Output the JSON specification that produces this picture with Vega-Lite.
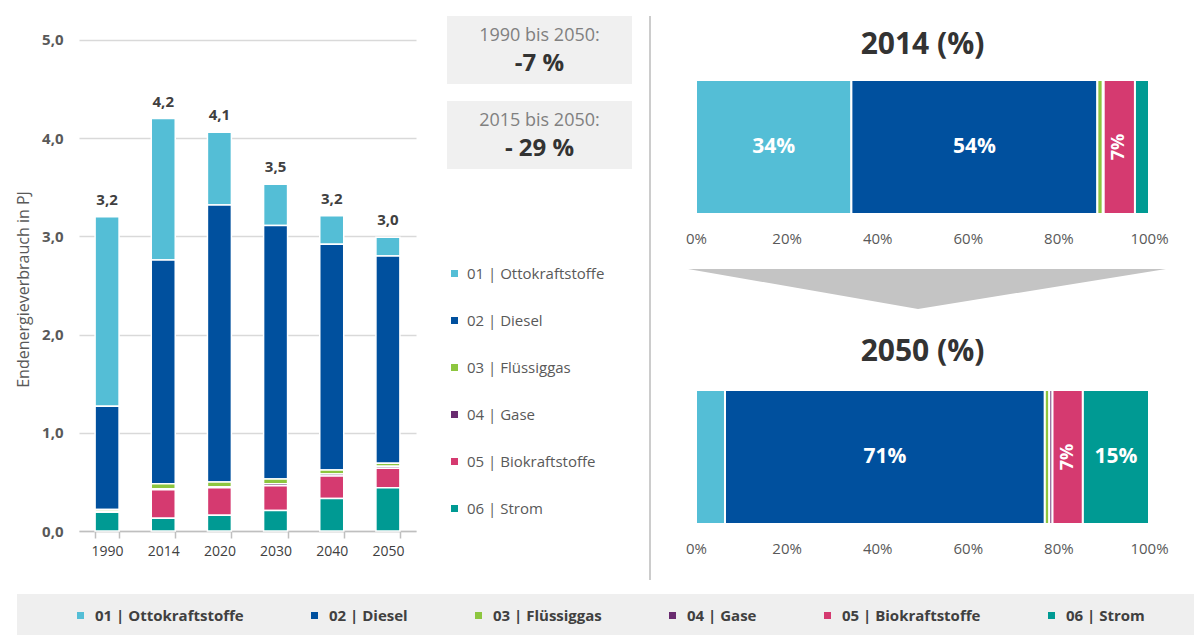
{
  "$schema": "https://vega.github.io/schema/vega-lite/v6.json",
  "padding": {"left": 15, "top": 15, "right": 0, "bottom": 0},
  "background": "white",
  "datasets": {
    "energie": [
      {"year": "1990", "cat": "01 | Ottokraftstoffe", "value": 1.93},
      {"year": "1990", "cat": "02 | Diesel", "value": 1.05},
      {"year": "1990", "cat": "03 | Flüssiggas", "value": 0.02},
      {"year": "1990", "cat": "04 | Gase", "value": 0.01},
      {"year": "1990", "cat": "06 | Strom", "value": 0.19},
      {"year": "2014", "cat": "01 | Ottokraftstoffe", "value": 1.44},
      {"year": "2014", "cat": "02 | Diesel", "value": 2.28},
      {"year": "2014", "cat": "03 | Flüssiggas", "value": 0.05},
      {"year": "2014", "cat": "04 | Gase", "value": 0.01},
      {"year": "2014", "cat": "05 | Biokraftstoffe", "value": 0.29},
      {"year": "2014", "cat": "06 | Strom", "value": 0.13},
      {"year": "2020", "cat": "01 | Ottokraftstoffe", "value": 0.74},
      {"year": "2020", "cat": "02 | Diesel", "value": 2.82},
      {"year": "2020", "cat": "03 | Flüssiggas", "value": 0.05},
      {"year": "2020", "cat": "04 | Gase", "value": 0.01},
      {"year": "2020", "cat": "05 | Biokraftstoffe", "value": 0.28},
      {"year": "2020", "cat": "06 | Strom", "value": 0.16},
      {"year": "2030", "cat": "01 | Ottokraftstoffe", "value": 0.42},
      {"year": "2030", "cat": "02 | Diesel", "value": 2.58},
      {"year": "2030", "cat": "03 | Flüssiggas", "value": 0.05},
      {"year": "2030", "cat": "04 | Gase", "value": 0.02},
      {"year": "2030", "cat": "05 | Biokraftstoffe", "value": 0.25},
      {"year": "2030", "cat": "06 | Strom", "value": 0.21},
      {"year": "2040", "cat": "01 | Ottokraftstoffe", "value": 0.29},
      {"year": "2040", "cat": "02 | Diesel", "value": 2.30},
      {"year": "2040", "cat": "03 | Flüssiggas", "value": 0.04},
      {"year": "2040", "cat": "04 | Gase", "value": 0.02},
      {"year": "2040", "cat": "05 | Biokraftstoffe", "value": 0.23},
      {"year": "2040", "cat": "06 | Strom", "value": 0.33},
      {"year": "2050", "cat": "01 | Ottokraftstoffe", "value": 0.19},
      {"year": "2050", "cat": "02 | Diesel", "value": 2.11},
      {"year": "2050", "cat": "03 | Flüssiggas", "value": 0.03},
      {"year": "2050", "cat": "04 | Gase", "value": 0.02},
      {"year": "2050", "cat": "05 | Biokraftstoffe", "value": 0.20},
      {"year": "2050", "cat": "06 | Strom", "value": 0.44}
    ],
    "anteile": [
      {"year": "2014", "cat": "01 | Ottokraftstoffe", "share": 0.343},
      {"year": "2014", "cat": "02 | Diesel", "share": 0.543},
      {"year": "2014", "cat": "03 | Flüssiggas", "share": 0.012},
      {"year": "2014", "cat": "04 | Gase", "share": 0.002},
      {"year": "2014", "cat": "05 | Biokraftstoffe", "share": 0.069},
      {"year": "2014", "cat": "06 | Strom", "share": 0.031},
      {"year": "2050", "cat": "01 | Ottokraftstoffe", "share": 0.064},
      {"year": "2050", "cat": "02 | Diesel", "share": 0.706},
      {"year": "2050", "cat": "03 | Flüssiggas", "share": 0.010},
      {"year": "2050", "cat": "04 | Gase", "share": 0.007},
      {"year": "2050", "cat": "05 | Biokraftstoffe", "share": 0.067},
      {"year": "2050", "cat": "06 | Strom", "share": 0.146}
    ],
    "traeger": [
      {"cat": "01 | Ottokraftstoffe"},
      {"cat": "02 | Diesel"},
      {"cat": "03 | Flüssiggas"},
      {"cat": "04 | Gase"},
      {"cat": "05 | Biokraftstoffe"},
      {"cat": "06 | Strom"}
    ]
  },
  "vconcat": [
    {
      "hconcat": [
        {
          "width": 337,
          "height": 515,
          "data": {"name": "energie"},
          "layer": [
            {
              "mark": {"type": "bar", "stroke": "white", "strokeWidth": 1.5},
              "encoding": {
                "x": {
                  "field": "year", "type": "nominal",
                  "scale": {"paddingInner": 0.573, "paddingOuter": 0.2865},
                  "axis": {
                    "title": null, "labelAngle": 0, "labelFontSize": 14, "labelColor": "#404040",
                    "domain": true, "domainColor": "#bfbfbf", "domainWidth": 1.5,
                    "ticks": true, "tickColor": "#bfbfbf", "tickSize": 7, "tickWidth": 1.5, "tickBand": "extent",
                    "labelPadding": 6, "grid": false
                  }
                },
                "y": {
                  "field": "value", "type": "quantitative", "stack": "zero",
                  "scale": {"domain": [0, 5.244], "nice": false},
                  "axis": {
                    "title": "Endenergieverbrauch in PJ", "titleFontSize": 16, "titleFontWeight": "normal",
                    "titleColor": "#595959", "titleX": -48, "titleY": 273,
                    "values": [0, 1, 2, 3, 4, 5], "format": ".1f",
                    "labelFontSize": 15, "labelFontWeight": "bold", "labelColor": "#595959", "labelPadding": 16,
                    "domain": false, "ticks": false, "tickSize": 0,
                    "grid": true, "gridColor": "#d9d9d9", "gridWidth": 1.5
                  }
                },
                "color": {"field": "cat", "type": "nominal", "legend": null},
                "order": {"field": "cat", "sort": "descending"}
              }
            },
            {
              "mark": {"type": "text", "dy": -17, "fontSize": 15, "fontWeight": "bold", "color": "#404040", "baseline": "middle"},
              "encoding": {
                "x": {"field": "year", "type": "nominal", "title": null},
                "y": {"aggregate": "sum", "field": "value", "type": "quantitative", "title": "Endenergieverbrauch in PJ"},
                "text": {"aggregate": "sum", "field": "value", "type": "quantitative", "format": ".1f"}
              }
            }
          ]
        },
        {
          "hconcat": [
            {
              "vconcat": [
                {
                  "width": 185,
                  "height": 68,
                  "view": {"fill": "#f0f0f0", "stroke": null},
                  "data": {"values": [{"zeitraum": "1990 bis 2050:", "veraenderung": "-7 %"}]},
                  "layer": [
                    {"mark": {"type": "text", "dy": -14, "fontSize": 18, "color": "#808080"}, "encoding": {"text": {"field": "zeitraum"}}},
                    {"mark": {"type": "text", "dy": 14, "fontSize": 24, "fontWeight": "bold", "color": "#333333"}, "encoding": {"text": {"field": "veraenderung"}}}
                  ]
                },
                {
                  "width": 185,
                  "height": 68,
                  "view": {"fill": "#f0f0f0", "stroke": null},
                  "data": {"values": [{"zeitraum": "2015 bis 2050:", "veraenderung": "- 29 %"}]},
                  "layer": [
                    {"mark": {"type": "text", "dy": -14, "fontSize": 18, "color": "#808080"}, "encoding": {"text": {"field": "zeitraum"}}},
                    {"mark": {"type": "text", "dy": 14, "fontSize": 24, "fontWeight": "bold", "color": "#333333"}, "encoding": {"text": {"field": "veraenderung"}}}
                  ]
                },
                {
                  "width": 185,
                  "height": 345,
                  "data": {"name": "traeger"},
                  "mark": {"type": "square", "opacity": 0, "size": 49},
                  "encoding": {
                    "color": {
                      "field": "cat", "type": "nominal",
                      "legend": {
                        "orient": "none", "legendX": 0, "legendY": 80, "direction": "vertical", "title": null,
                        "symbolType": "square", "symbolSize": 49, "symbolOpacity": 1, "symbolStrokeWidth": 0,
                        "labelFontSize": 15, "labelColor": "#595959", "labelOffset": 5, "rowPadding": 31,
                        "padding": 0, "labelLimit": 300
                      }
                    }
                  }
                }
              ],
              "spacing": 17,
              "resolve": {"scale": {"color": "independent"}, "legend": {"color": "independent"}}
            },
            {
              "width": 4,
              "height": 564,
              "data": {"values": [{"trenner": 0}]},
              "mark": {"type": "rule", "color": "#cccccc", "strokeWidth": 2},
              "encoding": {"x": {"field": "trenner", "type": "quantitative", "axis": null, "scale": {"domain": [0, 1]}}}
            }
          ],
          "spacing": 17,
          "resolve": {"scale": {"color": "independent"}, "legend": {"color": "independent"}}
        },
        {
          "vconcat": [
            {
              "width": 453,
              "height": 198,
              "title": {"text": "2014 (%)", "frame": "group", "anchor": "middle", "baseline": "alphabetic", "offset": -68, "fontSize": 30, "fontWeight": "bold", "color": "#333333"},
              "data": {"name": "anteile"},
              "transform": [
                {"filter": "datum.year == '2014'"},
                {"stack": "share", "groupby": ["year"], "sort": [{"field": "cat", "order": "ascending"}], "as": ["s0", "s1"]}
              ],
              "encoding": {
                "y": {"field": "year", "type": "nominal", "axis": null, "scale": {"paddingInner": 0, "paddingOuter": 0.2388, "align": 1}}
              },
              "layer": [
                {
                  "mark": {"type": "bar", "stroke": "white", "strokeWidth": 2},
                  "encoding": {
                    "x": {
                      "field": "s0", "type": "quantitative", "scale": {"domain": [0, 1], "nice": false},
                      "axis": {"title": null, "values": [0, 0.2, 0.4, 0.6, 0.8, 1], "format": ".0%", "grid": false, "domain": false, "ticks": false, "tickSize": 0, "labelPadding": 17, "labelFontSize": 15, "labelColor": "#595959", "labelFlush": false}
                    },
                    "x2": {"field": "s1"},
                    "color": {"field": "cat", "type": "nominal", "legend": null}
                  }
                },
                {
                  "transform": [{"filter": "datum.share >= 0.1"}, {"fold": ["s0", "s1"], "as": ["edge", "pos"]}],
                  "mark": {"type": "text", "color": "white", "fontSize": 21, "fontWeight": "bold", "baseline": "middle"},
                  "encoding": {
                    "x": {"aggregate": "mean", "field": "pos", "type": "quantitative", "title": null},
                    "detail": {"field": "cat"},
                    "text": {"field": "share", "type": "quantitative", "format": ".0%"}
                  }
                },
                {
                  "transform": [{"filter": "datum.cat == '05 | Biokraftstoffe'"}, {"fold": ["s0", "s1"], "as": ["edge", "pos"]}],
                  "mark": {"type": "text", "color": "white", "fontSize": 18, "fontWeight": "bold", "angle": 270, "baseline": "middle"},
                  "encoding": {
                    "x": {"aggregate": "mean", "field": "pos", "type": "quantitative", "title": null},
                    "detail": {"field": "cat"},
                    "text": {"field": "share", "type": "quantitative", "format": ".0%"}
                  }
                }
              ]
            },
            {
              "width": 478,
              "height": 40,
              "data": {"values": [{"von": "2014", "nach": "2050"}]},
              "mark": {"type": "point", "shape": "M-1.0335,-0.0837L0.9665,-0.0837L-0.0711,0.0837Z", "size": 228484, "filled": true, "color": "#c4c4c4", "opacity": 1, "strokeWidth": 0},
              "encoding": {}
            },
            {
              "width": 453,
              "height": 192,
              "title": {"text": "2050 (%)", "frame": "group", "anchor": "middle", "baseline": "alphabetic", "offset": -59, "fontSize": 30, "fontWeight": "bold", "color": "#333333"},
              "data": {"name": "anteile"},
              "transform": [
                {"filter": "datum.year == '2050'"},
                {"stack": "share", "groupby": ["year"], "sort": [{"field": "cat", "order": "ascending"}], "as": ["s0", "s1"]}
              ],
              "encoding": {
                "y": {"field": "year", "type": "nominal", "axis": null, "scale": {"paddingInner": 0, "paddingOuter": 0.2164, "align": 1}}
              },
              "layer": [
                {
                  "mark": {"type": "bar", "stroke": "white", "strokeWidth": 2},
                  "encoding": {
                    "x": {
                      "field": "s0", "type": "quantitative", "scale": {"domain": [0, 1], "nice": false},
                      "axis": {"title": null, "values": [0, 0.2, 0.4, 0.6, 0.8, 1], "format": ".0%", "grid": false, "domain": false, "ticks": false, "tickSize": 0, "labelPadding": 17, "labelFontSize": 15, "labelColor": "#595959", "labelFlush": false}
                    },
                    "x2": {"field": "s1"},
                    "color": {"field": "cat", "type": "nominal", "legend": null}
                  }
                },
                {
                  "transform": [{"filter": "datum.share >= 0.1"}, {"fold": ["s0", "s1"], "as": ["edge", "pos"]}],
                  "mark": {"type": "text", "color": "white", "fontSize": 21, "fontWeight": "bold", "baseline": "middle"},
                  "encoding": {
                    "x": {"aggregate": "mean", "field": "pos", "type": "quantitative", "title": null},
                    "detail": {"field": "cat"},
                    "text": {"field": "share", "type": "quantitative", "format": ".0%"}
                  }
                },
                {
                  "transform": [{"filter": "datum.cat == '05 | Biokraftstoffe'"}, {"fold": ["s0", "s1"], "as": ["edge", "pos"]}],
                  "mark": {"type": "text", "color": "white", "fontSize": 18, "fontWeight": "bold", "angle": 270, "baseline": "middle"},
                  "encoding": {
                    "x": {"aggregate": "mean", "field": "pos", "type": "quantitative", "title": null},
                    "detail": {"field": "cat"},
                    "text": {"field": "share", "type": "quantitative", "format": ".0%"}
                  }
                }
              ]
            }
          ],
          "spacing": 22,
          "resolve": {"scale": {"color": "independent"}, "legend": {"color": "independent"}}
        }
      ],
      "spacing": 31,
      "resolve": {"scale": {"color": "independent"}, "legend": {"color": "independent"}}
    },
    {
      "width": 1116,
      "height": 43,
      "view": {"fill": "#efefef", "stroke": null},
      "data": {"name": "traeger"},
      "mark": {"type": "square", "opacity": 0, "size": 49},
      "encoding": {
        "color": {
          "field": "cat", "type": "nominal",
          "legend": {
            "orient": "none", "legendX": -62, "legendY": 0, "direction": "horizontal", "columns": 6, "gridAlign": "none",
            "columnPadding": 63, "title": " ", "titleOrient": "left", "titlePadding": 42, "titleFontSize": 15,
            "fillColor": "#efefef", "padding": 14,
            "symbolType": "square", "symbolSize": 49, "symbolOpacity": 1, "symbolStrokeWidth": 0,
            "labelFontSize": 15, "labelFontWeight": "bold", "labelColor": "#404040", "labelOffset": 7, "labelLimit": 300
          }
        }
      }
    }
  ],
  "spacing": 13,
  "resolve": {"scale": {"color": "independent"}, "legend": {"color": "independent"}},
  "config": {
    "font": "Open Sans",
    "view": {"stroke": null},
    "range": {"category": ["#54bed6", "#00509e", "#8dc63f", "#6a2c70", "#d53a70", "#009a93"]},
    "locale": {"number": {"decimal": ",", "thousands": ".", "grouping": [3], "currency": ["", " €"]}}
  }
}
